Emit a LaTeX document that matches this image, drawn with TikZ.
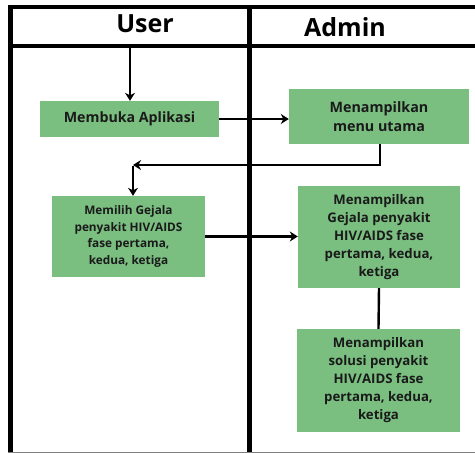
\documentclass[tikz,border=0pt]{standalone}
\usepackage{fontspec}
\setmainfont{Open Sans}
\usetikzlibrary{arrows.meta}
\definecolor{boxgreen}{RGB}{122,190,128}
\definecolor{inkdark}{RGB}{26,26,26}
\tikzset{
  frameline/.style={line width=4.5pt, black},
  stepbox/.style={fill=boxgreen, draw=none, inner sep=0pt, align=center,
    text=inkdark, font=\bfseries},
  flow/.style={line width=2.4pt, black, -{Stealth[length=8pt,width=10pt]}},
  plainflow/.style={line width=2.4pt, black},
  lanehead/.style={font=\bfseries\fontsize{25}{28}\selectfont, text=black, inner sep=0pt}
}
\begin{document}
\begin{tikzpicture}[x=1pt,y=-1pt]
\useasboundingbox (0,0) rectangle (475,453);
\fill[white] (0,0) rectangle (475,453);

% swimlane frame
\draw[frameline] (10.5,5) -- (10.5,453);
\draw[frameline] (8.3,7) -- (475,7);
\draw[frameline] (8.3,46) -- (475,46);
\draw[frameline] (249.5,5) -- (249.5,453);
\draw[line width=1pt, gray] (8.3,452.3) -- (475,452.3);

% lane titles
\node[lanehead] (user) at (145,24) {User};
\node[lanehead] (admin) at (345,27) {Admin};

% activity boxes
\node[stepbox, minimum width=179pt, minimum height=36pt,
  font=\bfseries\fontsize{14.2}{17}\selectfont] (buka) at (129.5,119) {Membuka Aplikasi};
\node[stepbox, minimum width=180pt, minimum height=55pt,
  font=\bfseries\fontsize{14.3}{19.5}\selectfont] (menu) at (379,116.5) {Menampilkan\\menu utama};
\node[stepbox, minimum width=153pt, minimum height=81pt,
  font=\bfseries\fontsize{11.8}{16.5}\selectfont] (pilih) at (128.5,236.5)
  {Memilih Gejala\\penyakit HIV/AIDS\\fase pertama,\\kedua, ketiga};
\node[stepbox, minimum width=162pt, minimum height=102pt,
  font=\bfseries\fontsize{13.2}{18}\selectfont] (gejala) at (379,237)
  {Menampilkan\\Gejala penyakit\\HIV/AIDS fase\\pertama, kedua,\\ketiga};
\node[stepbox, minimum width=163pt, minimum height=103pt,
  font=\bfseries\fontsize{13.2}{18}\selectfont] (solusi) at (378.5,380.5)
  {Menampilkan\\solusi penyakit\\HIV/AIDS fase\\pertama, kedua,\\ketiga};

% connectors
\coordinate (start) at (130,48);
\coordinate (turnA) at (380,165);
\coordinate (turnB) at (133,165);
\draw[flow] (start) -- (buka.north -| start);
\draw[flow] (buka.east) -- (menu.west |- buka.east);
\draw[plainflow] (menu.south -| turnA) -- (turnA);
\draw[flow] ([xshift=1.2pt]turnA) -- (turnB);
\draw[flow] ([yshift=-1.2pt]turnB) -- (pilih.north -| turnB);
\draw[flow] (pilih.east) -- (gejala.west |- pilih.east);
\draw[plainflow] (gejala.south) -- (solusi.north);
\end{tikzpicture}
\end{document}
